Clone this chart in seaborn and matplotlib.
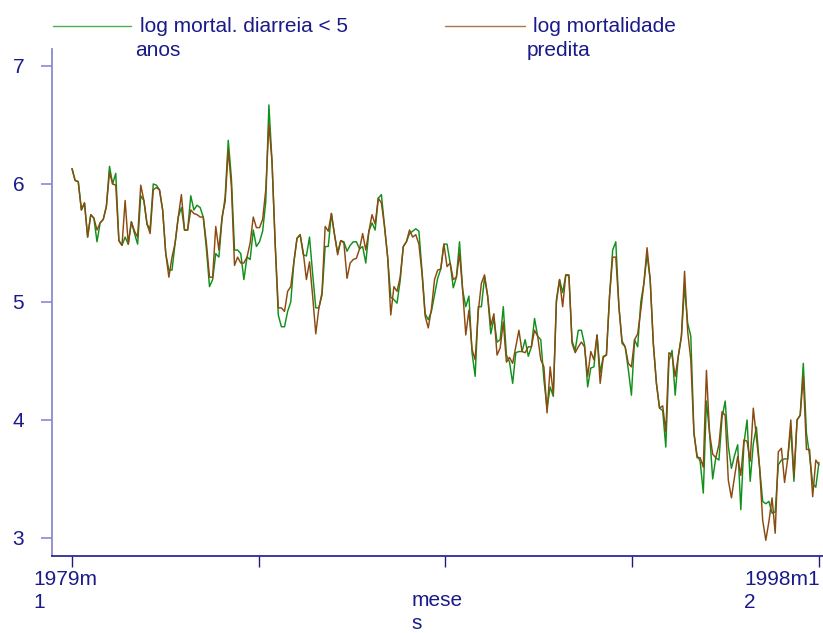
import numpy as np
import pandas as pd
import matplotlib
matplotlib.use("Agg")
import matplotlib.pyplot as plt
import matplotlib.transforms as mtransforms
from matplotlib.lines import Line2D
import seaborn as sns

# Monthly series, 1979m1 .. 1998m12
start_label = "1979m\n1"
end_label = "1998m1\n2"
x_title = "mese\ns"
obs_label = ["log mortal. diarreia < 5", "anos"]
pred_label = ["log mortalidade", "predita"]
y_ticks = [3, 4, 5, 6, 7]

log_mort_obs = [
    6.13, 6.03, 6.02, 5.78, 5.84, 5.55, 5.74, 5.71, 5.51, 5.67,
    5.70, 5.81, 6.15, 6.00, 6.09, 5.52, 5.48, 5.55, 5.49, 5.68,
    5.58, 5.49, 5.90, 5.86, 5.66, 5.62, 6.00, 5.99, 5.95, 5.78,
    5.41, 5.27, 5.27, 5.50, 5.72, 5.80, 5.61, 5.61, 5.90, 5.78,
    5.82, 5.80, 5.72, 5.45, 5.13, 5.19, 5.41, 5.38, 5.70, 5.89,
    6.37, 6.05, 5.44, 5.44, 5.41, 5.19, 5.38, 5.36, 5.61, 5.47,
    5.51, 5.60, 5.85, 6.67, 6.19, 5.50, 4.89, 4.79, 4.79, 4.92,
    5.00, 5.34, 5.54, 5.57, 5.40, 5.39, 5.55, 5.24, 4.95, 4.95,
    5.06, 5.47, 5.47, 5.75, 5.57, 5.42, 5.52, 5.51, 5.43, 5.48,
    5.51, 5.51, 5.45, 5.47, 5.33, 5.60, 5.67, 5.61, 5.88, 5.91,
    5.64, 5.38, 5.04, 5.02, 4.99, 5.18, 5.47, 5.51, 5.58, 5.60,
    5.62, 5.60, 5.26, 4.90, 4.85, 4.92, 5.06, 5.20, 5.28, 5.49,
    5.49, 5.33, 5.12, 5.21, 5.51, 5.10, 4.96, 5.05, 4.57, 4.37,
    4.96, 4.96, 5.21, 5.05, 4.73, 4.86, 4.66, 4.68, 4.96, 4.55,
    4.49, 4.31, 4.57, 4.58, 4.58, 4.68, 4.54, 4.62, 4.86, 4.71,
    4.68, 4.34, 4.10, 4.28, 4.20, 5.02, 5.19, 5.08, 5.23, 5.22,
    4.67, 4.59, 4.76, 4.76, 4.64, 4.28, 4.44, 4.45, 4.72, 4.40,
    4.54, 4.55, 5.05, 5.44, 5.51, 4.96, 4.67, 4.62, 4.43, 4.21,
    4.68, 4.62, 5.00, 5.16, 5.40, 5.19, 4.65, 4.31, 4.10, 4.08,
    3.77, 4.50, 4.59, 4.21, 4.54, 4.71, 5.13, 4.82, 4.71, 3.89,
    3.70, 3.65, 3.38, 4.16, 3.89, 3.50, 3.68, 3.66, 4.02, 4.16,
    3.78, 3.59, 3.70, 3.79, 3.24, 3.80, 4.00, 3.48, 3.80, 3.94,
    3.60, 3.31, 3.29, 3.31, 3.21, 3.22, 3.62, 3.66, 3.67, 3.67,
    3.93, 3.48, 4.00, 4.04, 4.48, 3.89, 3.70, 3.46, 3.43, 3.64,
]

log_mort_pred = [
    6.13, 6.03, 6.02, 5.78, 5.84, 5.55, 5.74, 5.71, 5.61, 5.67,
    5.70, 5.81, 6.10, 6.00, 5.99, 5.52, 5.48, 5.86, 5.49, 5.68,
    5.60, 5.55, 5.99, 5.86, 5.66, 5.58, 5.95, 5.97, 5.95, 5.78,
    5.41, 5.21, 5.38, 5.50, 5.72, 5.91, 5.61, 5.61, 5.78, 5.75,
    5.74, 5.72, 5.72, 5.50, 5.21, 5.21, 5.64, 5.44, 5.72, 5.85,
    6.29, 5.98, 5.31, 5.38, 5.33, 5.33, 5.38, 5.50, 5.72, 5.63,
    5.63, 5.70, 5.95, 6.51, 6.19, 5.50, 4.95, 4.95, 4.92, 5.09,
    5.13, 5.34, 5.54, 5.57, 5.42, 5.19, 5.34, 5.05, 4.73, 4.95,
    5.08, 5.64, 5.60, 5.75, 5.57, 5.40, 5.52, 5.50, 5.20, 5.33,
    5.36, 5.37, 5.45, 5.58, 5.44, 5.60, 5.74, 5.66, 5.88, 5.84,
    5.64, 5.38, 4.89, 5.13, 5.09, 5.21, 5.47, 5.51, 5.61, 5.55,
    5.57, 5.49, 5.24, 4.88, 4.78, 4.94, 5.19, 5.27, 5.28, 5.49,
    5.30, 5.33, 5.19, 5.21, 5.41, 5.10, 4.72, 4.93, 4.60, 4.51,
    4.92, 5.16, 5.23, 5.05, 4.80, 4.90, 4.55, 4.61, 4.83, 4.49,
    4.53, 4.48, 4.62, 4.76, 4.58, 4.57, 4.62, 4.62, 4.76, 4.71,
    4.51, 4.45, 4.06, 4.45, 4.22, 5.00, 5.19, 4.96, 5.23, 5.23,
    4.65, 4.57, 4.62, 4.66, 4.62, 4.37, 4.58, 4.51, 4.72, 4.31,
    4.53, 4.55, 5.05, 5.38, 5.38, 4.96, 4.65, 4.62, 4.48, 4.45,
    4.68, 4.73, 4.93, 5.16, 5.46, 5.19, 4.65, 4.31, 4.10, 4.12,
    3.90, 4.57, 4.55, 4.37, 4.54, 4.71, 5.26, 4.75, 4.51, 3.89,
    3.68, 3.68, 3.60, 4.42, 3.89, 3.71, 3.68, 3.79, 4.07, 4.04,
    3.49, 3.34, 3.52, 3.69, 3.53, 3.83, 3.82, 3.65, 4.10, 3.85,
    3.60, 3.15, 2.98, 3.14, 3.34, 3.04, 3.73, 3.76, 3.47, 3.67,
    4.00, 3.52, 4.00, 4.04, 4.37, 3.75, 3.75, 3.35, 3.66, 3.62,
]

GREEN = "#11901a"
BROWN = "#8a4a10"
NAVY = "#1a1a8a"
LIGHT_AXIS = "#8a8ad0"
LS = 1.25

months = np.arange(len(log_mort_obs))
df = pd.DataFrame({"mes": months, "obs": log_mort_obs, "pred": log_mort_pred})

sns.set_style("white")
plt.rcParams["font.family"] = ["Liberation Sans", "DejaVu Sans"]

fig = plt.figure(figsize=(8.23, 6.33), dpi=100)
ax = fig.add_axes([52 / 823, 1 - 556 / 633, 771 / 823, (556 - 49) / 633])

sns.lineplot(data=df, x="mes", y="obs", ax=ax, color=GREEN, lw=1.05)
sns.lineplot(data=df, x="mes", y="pred", ax=ax, color=BROWN, lw=1.05)

n = len(months)
ax.set_xlim(-6.4, 240.3)
ax.set_ylim(2.847, 7.144)

# axes styling
for side in ("top", "right"):
    ax.spines[side].set_visible(False)
ax.spines["left"].set_color(LIGHT_AXIS)
ax.spines["left"].set_linewidth(1.3)
ax.spines["bottom"].set_color(NAVY)
ax.spines["bottom"].set_linewidth(1.2)

ax.set_yticks(y_ticks)
ax.set_yticklabels([str(t) for t in y_ticks])
ax.tick_params(axis="y", direction="out", length=8, width=1.2, color=LIGHT_AXIS,
               labelcolor=NAVY, labelsize=15, pad=12, left=True)

xticks = np.linspace(0, n - 1, 5)
ax.set_xticks(xticks)
ax.set_xticklabels([""] * len(xticks))
ax.tick_params(axis="x", direction="out", length=8, width=1.0, color=NAVY, bottom=True)

# end tick labels, wrapped
lbl_kw = dict(color=NAVY, fontsize=15, ha="left", va="top", linespacing=LS,
              clip_on=False)
blend = mtransforms.blended_transform_factory(ax.transData, ax.transAxes)
t0 = mtransforms.offset_copy(blend, fig=fig, x=-39, y=-14, units="dots")
t1 = mtransforms.offset_copy(blend, fig=fig, x=-75, y=-14, units="dots")
ax.text(xticks[0], 0, start_label, transform=t0, **lbl_kw)
ax.text(xticks[-1], 0, end_label, transform=t1, **lbl_kw)

ax.set_xlabel(x_title, color=NAVY, fontsize=15, multialignment="left",
              labelpad=14, linespacing=LS)
ax.set_ylabel("")

# legend row along the top, each label wrapped onto two lines
def legend_entry(x0, x1, xt1, xt2, color, lines):
    y = 1 - 26 / 633
    fig.add_artist(Line2D([x0 / 823, x1 / 823], [y, y], color=color, lw=1.0,
                          alpha=0.75, transform=fig.transFigure))
    fig.text(xt1 / 823, 1 - 17 / 633, lines[0], color=NAVY, fontsize=15,
             ha="left", va="top")
    fig.text(xt2 / 823, 1 - 41 / 633, lines[1], color=NAVY, fontsize=15,
             ha="left", va="top")

legend_entry(53, 131, 140, 135, GREEN, obs_label)
legend_entry(445, 525, 533, 527, BROWN, pred_label)

fig.savefig("out.png", dpi=100, facecolor="white")
